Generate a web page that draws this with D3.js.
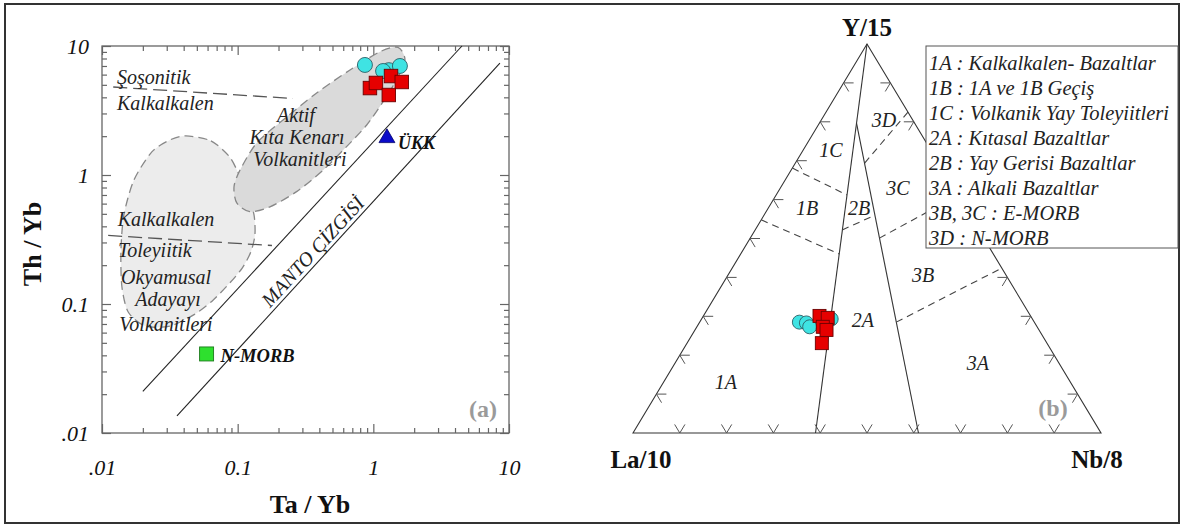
<!DOCTYPE html>
<html>
<head>
<meta charset="utf-8">
<script src="https://cdn.jsdelivr.net/npm/d3@7"></script>
<style>
  html, body { margin: 0; padding: 0; background: #fff; }
  svg { display: block; font-family: "Liberation Serif", "Times New Roman", serif; }
</style>
</head>
<body>
<svg id="chart" width="1185" height="527"></svg>
<script>
// ---------- (a) Th/Yb vs Ta/Yb ----------
// sample points: [Ta/Yb, Th/Yb]
const sampleCircles = [[0.867, 7.13], [1.30, 6.5], [1.18, 6.40], [1.57, 7.0]];
const sampleSquares = [[0.944, 4.72], [1.045, 5.17], [1.35, 5.85], [1.62, 5.26], [1.30, 4.17]];
const nMorb = [0.059, 0.041];
const ukk = [1.26, 1.97];
// mantle array boundaries
const mantleUpper = [[0.02, 0.021], [4.5, 10]];
const mantleLower = [[0.0357, 0.01355], [8.57, 7.38]];
// dashed series dividers
const shoDivide = [[0.0121, 4.81], [0.256, 3.92]];
const thoDivide = [[0.0111, 0.340], [0.179, 0.284]];
// field outlines
const acmField = [[1.52, 9.77], [1.71, 7.79], [1.48, 5.45], [1.18, 3.70], [0.894, 2.44], [0.635, 1.66],
  [0.426, 1.09], [0.272, 0.743], [0.173, 0.567], [0.123, 0.520], [0.0985, 0.607], [0.094, 0.811],
  [0.104, 1.09], [0.138, 1.77], [0.216, 2.67], [0.382, 4.32], [0.673, 6.52], [1.12, 9.03]];
const oiaField = [[0.0416, 2.01], [0.0635, 1.84], [0.0863, 1.40], [0.1005, 1.05], [0.119, 0.70],
  [0.132, 0.49], [0.134, 0.343], [0.125, 0.253], [0.108, 0.190], [0.0877, 0.146], [0.0658, 0.107],
  [0.0484, 0.0835], [0.0317, 0.0675], [0.0208, 0.0675], [0.0156, 0.0867], [0.0140, 0.138],
  [0.0138, 0.262], [0.0145, 0.49], [0.0172, 0.914], [0.0233, 1.51], [0.0317, 1.87]];
const logTicks = [0.01, 0.1, 1, 10];
const logTickLabels = [".01", "0.1", "1", "10"];

// ---------- (b) La/10 - Y/15 - Nb/8 ----------
// compositions in % : [La/10, Y/15, Nb/8]
const ternCircles = [[50.2, 28.5, 21.3], [48.8, 28.3, 22.9], [48.6, 27.3, 24.1], [43.0, 29.3, 27.7]];
const ternSquares = [[45.1, 30.1, 24.8], [43.6, 29.6, 26.8], [45.8, 27.3, 26.9], [45.4, 26.5, 28.1], [48.1, 23.1, 28.8]];
const ternSolid = [
  [[0, 100, 0], [61, 0, 39]],
  [[12.4, 79.7, 7.9], [39, 0, 61]]
];
const ternDashed = [
  [[15.8, 69.4, 14.8], [0, 82.5, 17.5]],
  [[31.9, 68.1, 0], [23.7, 61.2, 15.1]],
  [[45.2, 54.8, 0], [32.9, 46.0, 21.1]],
  [[29.2, 52.2, 18.6], [20.3, 56.0, 23.7]],
  [[22.3, 50.1, 27.6], [0, 61.1, 38.9]],
  [[29.5, 28.5, 42.0], [0, 42.4, 57.6]]
];
const ternTicks = [10, 20, 30, 40, 50, 60, 70, 80, 90];
const fieldLabels = [
  {t: "3D", c: [6.1, 80.5, 13.4]}, {t: "1C", c: [21.3, 72.8, 5.9]}, {t: "3C", c: [11.9, 63.0, 25.1]},
  {t: "1B", c: [33.9, 57.8, 8.3]}, {t: "2B", c: [22.8, 57.8, 19.4]}, {t: "3B", c: [17.7, 40.6, 41.7]},
  {t: "2A", c: [36.4, 29.0, 34.6]}, {t: "1A", c: [73.6, 13.1, 13.3]}, {t: "3A", c: [17.3, 18.0, 64.7]}
];
const legendLines = [
  "1A : Kalkalkalen- Bazaltlar",
  "1B : 1A ve 1B Geçiş",
  "1C : Volkanik Yay Toleyiitleri",
  "2A : Kıtasal Bazaltlar",
  "2B : Yay Gerisi Bazaltlar",
  "3A : Alkali Bazaltlar",
  "3B, 3C : E-MORB",
  "3D : N-MORB"
];

const svg = d3.select("#chart");
const serif = "'Liberation Serif','Times New Roman',serif";

// outer frame
svg.append("rect").attr("x", 5).attr("y", 4).attr("width", 1174).attr("height", 519)
  .attr("fill", "none").attr("stroke", "#333").attr("stroke-width", 2);

// ================= panel (a) =================
const box = {l: 102, r: 509, t: 46, b: 433};
const x = d3.scaleLog().domain([0.01, 10]).range([box.l, box.r]);
const y = d3.scaleLog().domain([0.01, 10]).range([box.b, box.t]);
const pa = svg.append("g");

const minorTicks = [];
[0.01, 0.1, 1].forEach(d => { for (let m = 2; m <= 9; m++) minorTicks.push(+(d * m).toPrecision(3)); });

const axisCol = "#666";
function styleAxis(g) {
  g.select(".domain").remove();
  g.selectAll(".tick line").attr("stroke", axisCol).attr("stroke-width", 1.2);
}
// inward ticks on all four sides
[[d3.axisBottom(x), `translate(0,${box.b})`], [d3.axisTop(x), `translate(0,${box.t})`],
 [d3.axisLeft(y), `translate(${box.l},0)`], [d3.axisRight(y), `translate(${box.r},0)`]].forEach(([ax, tr]) => {
  pa.append("g").attr("transform", tr)
    .call(ax.tickValues(minorTicks).tickSize(-5).tickFormat(""))
    .call(styleAxis);
});
pa.append("g").attr("transform", `translate(0,${box.t})`)
  .call(d3.axisTop(x).tickValues(logTicks).tickSize(-9).tickFormat("")).call(styleAxis);
pa.append("g").attr("transform", `translate(${box.r},0)`)
  .call(d3.axisRight(y).tickValues(logTicks).tickSize(-9).tickFormat("")).call(styleAxis);
const xAx = pa.append("g").attr("transform", `translate(0,${box.b})`)
  .call(d3.axisBottom(x).tickValues(logTicks).tickSize(-9).tickPadding(26)
    .tickFormat((d, i) => logTickLabels[i])).call(styleAxis);
const yAx = pa.append("g").attr("transform", `translate(${box.l},0)`)
  .call(d3.axisLeft(y).tickValues(logTicks).tickSize(-9).tickPadding(13)
    .tickFormat((d, i) => logTickLabels[i])).call(styleAxis);
[xAx, yAx].forEach(g => g.selectAll("text")
  .attr("font-family", serif).attr("font-style", "italic").attr("font-size", 22).attr("fill", "#111"));

// field outlines (lighter oceanic-arc field underneath)
const fieldLine = d3.line().x(d => x(d[0])).y(d => y(d[1])).curve(d3.curveCardinalClosed.tension(0.2));
pa.append("path").attr("d", fieldLine(oiaField)).attr("fill", "#ececec")
  .attr("stroke", "#888").attr("stroke-width", 1.3).attr("stroke-dasharray", "9,5");
pa.append("path").attr("d", fieldLine(acmField)).attr("fill", "#dadada")
  .attr("stroke", "#888").attr("stroke-width", 1.3).attr("stroke-dasharray", "9,5");

// plot box
pa.append("rect").attr("x", box.l).attr("y", box.t).attr("width", box.r - box.l).attr("height", box.b - box.t)
  .attr("fill", "none").attr("stroke", axisCol).attr("stroke-width", 1.3);

const seg = d3.line().x(d => x(d[0])).y(d => y(d[1]));
[mantleUpper, mantleLower].forEach(l => pa.append("path").attr("d", seg(l))
  .attr("fill", "none").attr("stroke", "#222").attr("stroke-width", 1.1));
[shoDivide, thoDivide].forEach(l => pa.append("path").attr("d", seg(l))
  .attr("fill", "none").attr("stroke", "#555").attr("stroke-width", 1.3).attr("stroke-dasharray", "14,6"));

// field and series names
function label(g, txt, px, py, anchor, opts = {}) {
  return g.append("text").attr("x", px).attr("y", py).attr("text-anchor", anchor || "start")
    .attr("font-family", serif).attr("font-style", opts.style || "italic")
    .attr("font-weight", opts.weight || "normal").attr("font-size", opts.size || 20)
    .attr("fill", opts.fill || "#222").text(txt);
}
label(pa, "Şoşonitik", 117, 84);
label(pa, "Kalkalkalen", 117, 110);
label(pa, "Aktif", 296, 122, "middle");
label(pa, "Kıta Kenarı", 297, 144, "middle");
label(pa, "Volkanitleri", 300, 166, "middle");
label(pa, "Kalkalkalen", 166, 226, "middle");
label(pa, "Toleyiitik", 118, 257);
label(pa, "Okyamusal", 166, 284, "middle");
label(pa, "Adayayı", 168, 306, "middle");
label(pa, "Volkanitleri", 166, 331, "middle");

// mantle array caption running along the lower boundary
{
  const p0 = [x(mantleLower[0][0]), y(mantleLower[0][1])];
  const p1 = [x(mantleLower[1][0]), y(mantleLower[1][1])];
  const ang = Math.atan2(p1[1] - p0[1], p1[0] - p0[0]);
  const t = 0.445;
  const bx = p0[0] + (p1[0] - p0[0]) * t + 4 * Math.sin(ang);
  const by = p0[1] + (p1[1] - p0[1]) * t - 4 * Math.cos(ang);
  label(pa, "MANTO ÇİZGİSİ", 0, 0, "middle")
    .attr("transform", `translate(${bx},${by}) rotate(${ang * 180 / Math.PI})`);
}

// samples
pa.selectAll("circle.s").data(sampleCircles).join("circle").attr("class", "s")
  .attr("cx", d => x(d[0])).attr("cy", d => y(d[1])).attr("r", 7.5)
  .attr("fill", "#3fe3e3").attr("stroke", "#2b5f66").attr("stroke-width", 0.9);
const sq = 13.5;
pa.selectAll("rect.s").data(sampleSquares).join("rect").attr("class", "s")
  .attr("x", d => x(d[0]) - sq / 2).attr("y", d => y(d[1]) - sq / 2).attr("width", sq).attr("height", sq)
  .attr("fill", "#e60000").attr("stroke", "#6a0000").attr("stroke-width", 0.9);
// reference compositions
pa.append("rect").attr("x", x(nMorb[0]) - 7).attr("y", y(nMorb[1]) - 7).attr("width", 14).attr("height", 14)
  .attr("fill", "#2ee02e").attr("stroke", "#1c7a1c").attr("stroke-width", 0.9);
label(pa, "N-MORB", x(nMorb[0]) + 14, y(nMorb[1]) + 8, "start", {weight: "bold", size: 18.5, fill: "#111"});
pa.append("path").attr("d", d3.symbol(d3.symbolTriangle, 110)())
  .attr("transform", `translate(${x(ukk[0])},${y(ukk[1]) + 1})`)
  .attr("fill", "#0a0ac8").attr("stroke", "#00006a").attr("stroke-width", 0.8);
label(pa, "ÜKK", x(ukk[0]) + 11, y(ukk[1]) + 12, "start", {weight: "bold", size: 18, fill: "#111"});

// axis titles
label(pa, "Ta / Yb", 310, 513, "middle", {style: "normal", weight: "bold", size: 26, fill: "#111"});
label(pa, "Th / Yb", 0, 0, "middle", {style: "normal", weight: "bold", size: 26, fill: "#111"})
  .attr("transform", "translate(41,244) rotate(-90)");
label(pa, "(a)", 483, 417, "middle", {style: "normal", weight: "bold", size: 24, fill: "#9a9a9a"});

// ================= panel (b) =================
const pb = svg.append("g");
const tBase = d3.scaleLinear().domain([0, 100]).range([633, 1101]);
const tHeight = d3.scaleLinear().domain([0, 100]).range([433, 44]);
const tx = c => tBase(c[2] + c[1] / 2);
const ty = c => tHeight(c[1]);
const tline = d3.line().x(tx).y(ty);

const L = [100, 0, 0], T = [0, 100, 0], R = [0, 0, 100];
pb.append("path").attr("d", tline([L, T, R]) + "Z").attr("fill", "none")
  .attr("stroke", "#333").attr("stroke-width", 1.1);
ternSolid.forEach(l => pb.append("path").attr("d", tline(l)).attr("fill", "none")
  .attr("stroke", "#333").attr("stroke-width", 1.1));
ternDashed.forEach(l => pb.append("path").attr("d", tline(l)).attr("fill", "none")
  .attr("stroke", "#444").attr("stroke-width", 1.1).attr("stroke-dasharray", "7,5"));

// edge tick marks, arms parallel to the triangle sides
{
  const unit = (a, b) => { const dx = tx(b) - tx(a), dy = ty(b) - ty(a), n = Math.hypot(dx, dy); return [dx / n, dy / n]; };
  const uL = unit(L, T), uR = unit(R, T), len = 10;
  const marks = [];
  ternTicks.forEach(v => {
    marks.push({p: [100 - v, 0, v], a: uL, b: uR});                       // base
    marks.push({p: [100 - v, v, 0], a: [1, 0], b: [-uR[0], -uR[1]]});      // left side
    marks.push({p: [0, v, 100 - v], a: [-1, 0], b: [-uL[0], -uL[1]]});     // right side
  });
  pb.selectAll("path.tk").data(marks).join("path").attr("class", "tk")
    .attr("d", m => {
      const px = tx(m.p), py = ty(m.p);
      return `M${px + m.a[0] * len},${py + m.a[1] * len}L${px},${py}L${px + m.b[0] * len},${py + m.b[1] * len}`;
    })
    .attr("fill", "none").attr("stroke", "#555").attr("stroke-width", 1);
}

fieldLabels.forEach(f => label(pb, f.t, tx(f.c), ty(f.c) + 7, "middle", {size: 20}));

// samples
pb.selectAll("circle.s").data(ternCircles).join("circle").attr("class", "s")
  .attr("cx", tx).attr("cy", ty).attr("r", 7)
  .attr("fill", "#3fe3e3").attr("stroke", "#2b5f66").attr("stroke-width", 0.9);
pb.selectAll("rect.s").data(ternSquares).join("rect").attr("class", "s")
  .attr("x", d => tx(d) - 6.5).attr("y", d => ty(d) - 6.5).attr("width", 13).attr("height", 13)
  .attr("fill", "#e60000").attr("stroke", "#6a0000").attr("stroke-width", 0.9);

// apex names
label(pb, "Y/15", tx(T), 36, "middle", {style: "normal", weight: "bold", size: 25, fill: "#111"});
label(pb, "La/10", tx(L) + 8, 468, "middle", {style: "normal", weight: "bold", size: 25, fill: "#111"});
label(pb, "Nb/8", tx(R) - 4, 468, "middle", {style: "normal", weight: "bold", size: 25, fill: "#111"});
label(pb, "(b)", 1053, 416, "middle", {style: "normal", weight: "bold", size: 24, fill: "#9a9a9a"});

// field key
const key = pb.append("g");
key.append("rect").attr("x", 926).attr("y", 46).attr("width", 252).attr("height", 202)
  .attr("fill", "#fff").attr("stroke", "#555").attr("stroke-width", 1);
key.selectAll("text").data(legendLines).join("text")
  .attr("x", 929).attr("y", (d, i) => 70 + i * 25)
  .attr("font-family", serif).attr("font-style", "italic").attr("font-size", 20.5)
  .attr("fill", "#222").text(d => d);
</script>
</body>
</html>
